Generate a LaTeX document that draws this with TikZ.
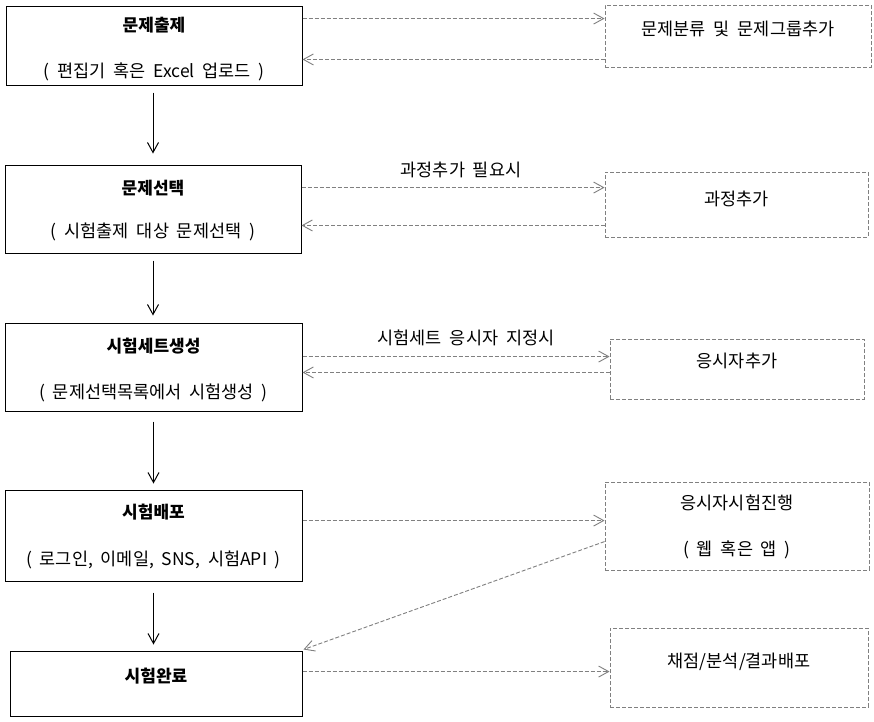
\documentclass[tikz,border=0pt]{standalone}
\usepackage{fontspec}
\setmainfont[WordSpace=2]{Noto Sans CJK KR}
\usetikzlibrary{arrows.meta}
\definecolor{dgray}{RGB}{128,128,128}
\begin{document}
\begin{tikzpicture}[x=1pt,y=-1pt,
  lbox/.style={draw=black,line width=1pt,inner sep=0pt},
  rbox/.style={draw=dgray,line width=0.9pt,dash pattern=on 4pt off 2pt,inner sep=0pt},
  ttl/.style={font=\fontsize{17}{20}\selectfont\bfseries,inner sep=0pt},
  txt/.style={font=\fontsize{17.5}{20}\selectfont,inner sep=0pt},
  varr/.style={draw=black,line width=1pt,-{Straight Barb[length=10pt,width=11pt]}},
  garr/.style={draw=dgray,line width=0.9pt,dash pattern=on 4pt off 2pt,-{Straight Barb[length=10pt,width=11pt]}}
]
\useasboundingbox (0,0) rectangle (874,721);
\fill[white] (0,0) rectangle (874,721);
% left boxes
\node[lbox,minimum width=296pt,minimum height=79pt] (b1) at (154,45.5) {};
\node[lbox,minimum width=296pt,minimum height=88pt] (b2) at (153,209) {};
\node[lbox,minimum width=297pt,minimum height=88pt] (b3) at (153.5,367) {};
\node[lbox,minimum width=297pt,minimum height=90.5pt] (b4) at (153.5,535.75) {};
\node[lbox,minimum width=292pt,minimum height=65pt] (b5) at (156,683.5) {};
% left texts
\node[ttl] (t1a) at (154,25) {문제출제};
\node[txt] (t1b) at (154,72) {( 편집기 혹은 Excel 업로드 )};
\node[ttl] (t2a) at (153,188) {문제선택};
\node[txt] (t2b) at (153,232) {( 시험출제 대상 문제선택 )};
\node[ttl] (t3a) at (153.5,346) {시험세트생성};
\node[txt] (t3b) at (153.5,393) {( 문제선택목록에서 시험생성 )};
\node[ttl] (t4a) at (153.5,512) {시험배포};
\node[txt] (t4b) at (153.5,560) {( 로그인, 이메일, SNS, 시험API )};
\node[ttl] (t5a) at (156,676) {시험완료};
% right boxes
\node[rbox,minimum width=266pt,minimum height=62pt] (r1) at (738,36) {};
\node[rbox,minimum width=263pt,minimum height=65pt] (r2) at (736.5,204.5) {};
\node[rbox,minimum width=254pt,minimum height=60pt] (r3) at (737,369) {};
\node[rbox,minimum width=264pt,minimum height=88pt] (r4) at (737,526) {};
\node[rbox,minimum width=258pt,minimum height=79pt] (r5) at (739,667.5) {};
% right texts
\node[txt] (r1t) at (738,29) {문제분류 및 문제그룹추가};
\node[txt] (r2t) at (736.5,199) {과정추가};
\node[txt] (r3t) at (737,361) {응시자추가};
\node[txt] (r4a) at (737,503) {응시자시험진행};
\node[txt] (r4b) at (737,550) {( 웹 혹은 앱 )};
\node[txt] (r5t) at (739,662) {채점/분석/결과배포};
% labels
\node[txt] (l2) at (461,170) {과정추가 필요시};
\node[txt] (l3) at (466,338) {시험세트 응시자 지정시};
% vertical arrows
\draw[varr] ([yshift=-7pt]b1.south -| b2.north) -- ([yshift=11pt]b2.north);
\draw[varr] ([yshift=-7pt]b2.south) -- ([yshift=7pt]b3.north -| b2.south);
\draw[varr] ([yshift=-10pt]b3.south) -- ([yshift=6.5pt]b4.north);
\draw[varr] ([yshift=-11pt]b4.south) -- ([yshift=6pt]b5.north -| b4.south);
% horizontal dashed arrows
\draw[garr] ([yshift=-14pt]r1.north -| b1.east) -- ([yshift=-14pt]r1.north west);
\draw[garr] ([yshift=8pt]r1.south west) -- ([yshift=8pt]r1.south -| b1.east);
\draw[garr] ([yshift=-16pt]r2.north -| b2.east) -- ([yshift=-16pt]r2.north west);
\draw[garr] ([yshift=12pt]r2.south west) -- ([yshift=12pt]r2.south -| b2.east);
\draw[garr] ([yshift=-18pt]r3.north -| b3.east) -- ([yshift=-18pt]r3.north west);
\draw[garr] ([yshift=27pt]r3.south west) -- ([yshift=27pt]r3.south -| b3.east);
\draw[garr] ([yshift=-39pt]r4.north -| b4.east) -- ([yshift=-39pt]r4.north west);
\draw[garr] ([yshift=-60pt]r4.north west) -- ([xshift=1pt,yshift=1pt]b5.north east);
\draw[garr] ([yshift=-44pt]r5.north -| b5.east) -- ([yshift=-44pt]r5.north west);
\end{tikzpicture}
\end{document}
